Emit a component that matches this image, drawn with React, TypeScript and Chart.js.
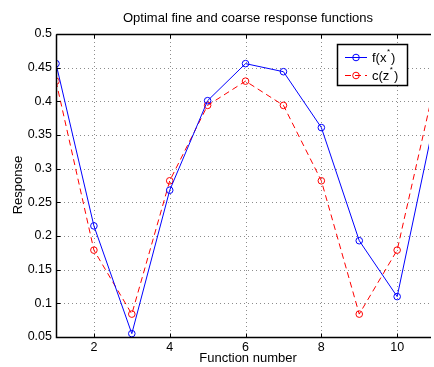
import React, { useEffect, useRef } from "react";
import { Chart, registerables } from "chart.js";
Chart.register(...registerables);

const functionNumbers = [1, 2, 3, 4, 5, 6, 7, 8, 9, 10, 11];
const fineResponse = [0.456, 0.215, 0.055, 0.268, 0.401, 0.456, 0.444, 0.361, 0.193, 0.11, 0.377];
const coarseResponse = [0.43, 0.179, 0.084, 0.282, 0.394, 0.43, 0.394, 0.282, 0.084, 0.179, 0.428];
const xTickValues = [2, 4, 6, 8, 10];
const xTickLabels = ["2", "4", "6", "8", "10"];
const yTickValues = [0.05, 0.1, 0.15, 0.2, 0.25, 0.3, 0.35, 0.4, 0.45, 0.5];
const yTickLabels = ["0.05", "0.1", "0.15", "0.2", "0.25", "0.3", "0.35", "0.4", "0.45", "0.5"];
const titleText = "Optimal fine and coarse response functions";
const xLabelText = "Function number";
const yLabelText = "Response";

const FONT = "'Liberation Sans', Arial, Helvetica, sans-serif";
const BLUE = "#0000ff";
const RED = "#ff0000";

const matlabPlugin = {
  id: "matlabLook",
  beforeDatasetsDraw(chart: any) {
    const { ctx, chartArea: a, scales } = chart;
    ctx.save();
    ctx.strokeStyle = "#8c8c8c";
    ctx.lineWidth = 1;
    ctx.setLineDash([1, 3]);
    xTickValues.forEach((v) => {
      const x = Math.round(scales.x.getPixelForValue(v)) + 0.5;
      ctx.beginPath();
      ctx.moveTo(x, a.top);
      ctx.lineTo(x, a.bottom);
      ctx.stroke();
    });
    yTickValues.forEach((v) => {
      const y = Math.round(scales.y.getPixelForValue(v)) + 0.5;
      ctx.beginPath();
      ctx.moveTo(a.left, y);
      ctx.lineTo(a.right, y);
      ctx.stroke();
    });
    ctx.restore();
  },
  afterDraw(chart: any) {
    const { ctx, chartArea: a, scales } = chart;
    ctx.save();
    ctx.setLineDash([]);
    ctx.strokeStyle = "#000";
    ctx.lineWidth = 1.5;
    const L = Math.round(a.left) + 0.5;
    const T = Math.round(a.top) + 0.5;
    const B = Math.round(a.bottom) + 0.5;
    ctx.beginPath();
    ctx.moveTo(L, T);
    ctx.lineTo(a.right + 2, T);
    ctx.moveTo(L, T);
    ctx.lineTo(L, B);
    ctx.lineTo(a.right + 2, B);
    ctx.stroke();
    ctx.lineWidth = 1;
    const tl = 4;
    xTickValues.forEach((v) => {
      const x = Math.round(scales.x.getPixelForValue(v)) + 0.5;
      ctx.beginPath();
      ctx.moveTo(x, B);
      ctx.lineTo(x, B - tl);
      ctx.moveTo(x, T);
      ctx.lineTo(x, T + tl);
      ctx.stroke();
    });
    yTickValues.forEach((v) => {
      const y = Math.round(scales.y.getPixelForValue(v)) + 0.5;
      ctx.beginPath();
      ctx.moveTo(L, y);
      ctx.lineTo(L + tl, y);
      ctx.stroke();
    });

    // Title and labels
    ctx.fillStyle = "#000";
    ctx.textAlign = "center";
    ctx.textBaseline = "middle";
    ctx.font = `13px ${FONT}`;
    ctx.fillText(titleText, 248, 18);
    ctx.fillText(xLabelText, 248, 358);
    ctx.save();
    ctx.translate(18, 185);
    ctx.rotate(-Math.PI / 2);
    ctx.fillText(yLabelText, 0, 0);
    ctx.restore();

    // Legend
    const bx = 337.5, by = 44.5, bw = 70, bh = 41;
    ctx.fillStyle = "#fff";
    ctx.fillRect(bx, by, bw, bh);
    ctx.strokeStyle = "#000";
    ctx.lineWidth = 1.5;
    ctx.strokeRect(bx, by, bw, bh);
    const rows = [
      { color: BLUE, dash: [] as number[], base: "f(x", y: 57 },
      { color: RED, dash: [6, 4], base: "c(z", y: 75 },
    ];
    rows.forEach((r) => {
      ctx.strokeStyle = r.color;
      ctx.lineWidth = 1;
      ctx.setLineDash(r.dash);
      ctx.beginPath();
      ctx.moveTo(345, r.y + 0.5);
      ctx.lineTo(367, r.y + 0.5);
      ctx.stroke();
      ctx.setLineDash([]);
      ctx.beginPath();
      ctx.arc(356, r.y + 0.5, 3.3, 0, Math.PI * 2);
      ctx.stroke();
      ctx.fillStyle = "#000";
      ctx.textAlign = "left";
      ctx.textBaseline = "middle";
      ctx.font = `13px ${FONT}`;
      ctx.fillText(r.base, 372, r.y + 1);
      const w = ctx.measureText(r.base).width;
      ctx.font = `8px ${FONT}`;
      ctx.fillText("*", 372 + w + 0.5, r.y - 5);
      const ws = ctx.measureText("*").width;
      ctx.font = `13px ${FONT}`;
      ctx.fillText(")", 372 + w + ws + 1.5, r.y + 1);
    });
    ctx.restore();
  },
};

export default function App() {
  const ref = useRef<HTMLCanvasElement>(null);
  useEffect(() => {
    if (!ref.current) return;
    const chart = new Chart(ref.current, {
      type: "line",
      data: {
        labels: functionNumbers,
        datasets: [
          {
            label: "f(x*)",
            data: functionNumbers.map((x, i) => ({ x, y: fineResponse[i] })),
            borderColor: BLUE,
            borderWidth: 1,
            pointStyle: "circle",
            pointRadius: 3.3,
            pointBorderColor: BLUE,
            pointBackgroundColor: "rgba(0,0,0,0)",
            pointBorderWidth: 1,
            tension: 0,
          },
          {
            label: "c(z*)",
            data: functionNumbers.map((x, i) => ({ x, y: coarseResponse[i] })),
            borderColor: RED,
            borderWidth: 1,
            borderDash: [6, 4],
            pointStyle: "circle",
            pointRadius: 3.3,
            pointBorderColor: RED,
            pointBackgroundColor: "rgba(0,0,0,0)",
            pointBorderWidth: 1,
            tension: 0,
          },
        ],
      },
      options: {
        animation: false,
        responsive: false,
        maintainAspectRatio: false,
        layout: { padding: { top: 34, left: 0, right: 0, bottom: 0 } },
        plugins: { legend: { display: false }, title: { display: false }, tooltip: { enabled: false } },
        scales: {
          x: {
            type: "linear",
            min: 1,
            max: 10.84,
            afterBuildTicks: (s: any) => {
              s.ticks = xTickValues.map((v) => ({ value: v }));
            },
            afterFit: (s: any) => {
              s.height = 30;
            },
            grid: { display: false, drawTicks: false },
            border: { display: false },
            ticks: {
              padding: 3,
              maxRotation: 0,
              autoSkip: false,
              color: "#000",
              font: { family: FONT, size: 12.5 },
              callback: (v: any) => xTickLabels[xTickValues.indexOf(Number(v))] ?? "",
            },
          },
          y: {
            type: "linear",
            min: 0.05,
            max: 0.5,
            afterBuildTicks: (s: any) => {
              s.ticks = yTickValues.map((v) => ({ value: v }));
            },
            afterFit: (s: any) => {
              s.width = 56;
            },
            grid: { display: false, drawTicks: false },
            border: { display: false },
            ticks: {
              padding: 4,
              autoSkip: false,
              color: "#000",
              font: { family: FONT, size: 12.5 },
              callback: (v: any) => {
                const i = yTickValues.findIndex((t) => Math.abs(t - Number(v)) < 1e-9);
                return i >= 0 ? yTickLabels[i] : "";
              },
            },
          },
        },
      },
      plugins: [matlabPlugin],
    });
    return () => chart.destroy();
  }, []);
  return (
    <canvas
      ref={ref}
      width={434}
      height={367}
      style={{ position: "fixed", left: 0, top: 0, width: 434, height: 367, display: "block", background: "#fff" }}
    />
  );
}
